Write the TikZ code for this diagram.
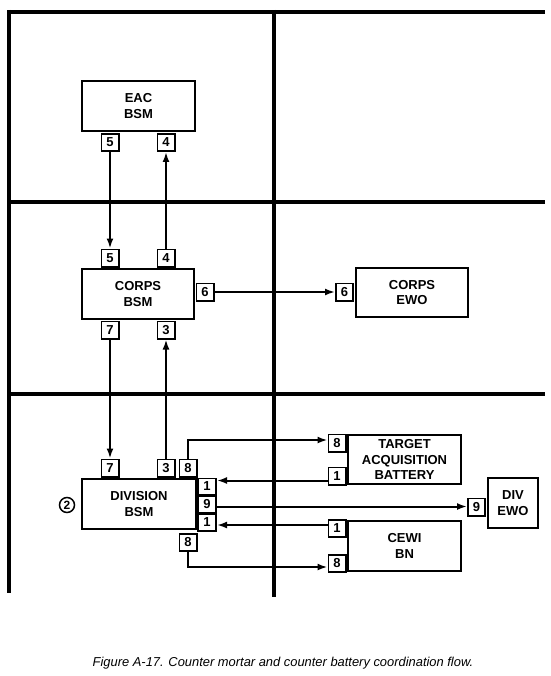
\documentclass[tikz,border=0pt]{standalone}
\usepackage{fontspec}
\setmainfont{Liberation Sans}
\usetikzlibrary{arrows.meta}
\begin{document}
\begin{tikzpicture}[x=1pt,y=-1pt,
  grid/.style={line width=4pt},
  box/.style={draw, line width=1.8pt, inner sep=0pt, align=center,
    font=\fontsize{13}{15.5}\selectfont\bfseries},
  num/.style={draw, line width=1.8pt, inner sep=0pt, minimum width=17.2pt,
    minimum height=17.2pt, font=\fontsize{13}{15}\selectfont\bfseries},
  side/.style={num, minimum width=18.2pt, minimum height=16.2pt},
  arr/.style={line width=2pt, -{Latex[length=10pt,width=7pt]}},
  link/.style={line width=2pt}]
\fill[white] (0,0) rectangle (550,676);
\useasboundingbox (0,0) rectangle (550,676);
% frame grid
\draw[grid] (9,12) -- (545,12);
\draw[grid] (9,202) -- (545,202);
\draw[grid] (9,394) -- (545,394);
\draw[grid] (9,10) -- (9,593);
\draw[grid] (274,10) -- (274,597);
% main boxes
\node[box, minimum width=113.2pt, minimum height=50.2pt] (eac) at (138.5,106) {EAC\\BSM};
\node[box, minimum width=112.2pt, minimum height=50.2pt] (corps) at (138,294) {CORPS\\BSM};
\node[box, minimum width=112.2pt, minimum height=49.2pt] (cewo) at (412,292.5) {CORPS\\EWO};
\node[box, minimum width=114.2pt, minimum height=50.2pt] (div) at (139,504) {DIVISION\\BSM};
\node[box, minimum width=113.2pt, minimum height=49.2pt] (tab) at (404.5,459.5) {TARGET\\ACQUISITION\\BATTERY};
\node[box, minimum width=113.2pt, minimum height=50.2pt] (cewi) at (404.5,546) {CEWI\\BN};
\node[box, minimum width=50.2pt, minimum height=50.2pt] (dewo) at (513,503) {DIV\\EWO};
% number boxes
\node[num] (e5) at (110,142.5) {5};
\node[num] (e4) at (166,142.5) {4};
\node[num] (c5) at (110,258) {5};
\node[num] (c4) at (166,258) {4};
\node[num] (c7) at (110,330) {7};
\node[num] (c3) at (166,330) {3};
\node[num] (c6) at (205,292) {6};
\node[num] (w6) at (344.5,292) {6};
\node[num] (d7) at (110,468) {7};
\node[num] (d3) at (166,468) {3};
\node[num] (d8) at (188,468) {8};
\node[side] (d1a) at (207,486.5) {1};
\node[side] (d9) at (207,504.5) {9};
\node[side] (d1b) at (207,522.5) {1};
\node[num] (d8b) at (188,542.5) {8};
\node[num] (t8) at (337,443) {8};
\node[num] (t1) at (337,476) {1};
\node[num] (b1) at (337,528.5) {1};
\node[num] (b8) at (337,563.5) {8};
\node[num] (v9) at (476.5,507) {9};
\node[draw, circle, line width=1.5pt, minimum size=15pt, inner sep=0pt,
  font=\fontsize{12}{13}\selectfont\bfseries] (two) at (67,505) {2};
% helper levels
\coordinate (yA) at (0,440);
\coordinate (yB) at (0,480.5);
\coordinate (yC) at (0,506.5);
\coordinate (yD) at (0,525);
\coordinate (yE) at (0,567);
% connectors
\draw[arr] (e5) -- (c5);
\draw[arr] (c4) -- (e4);
\draw[arr] (c7) -- (d7);
\draw[arr] (d3) -- (c3);
\draw[arr] (c6) -- (w6);
\draw[arr] (d8.north) -- (d8.north |- yA) -- (t8.west |- yA);
\draw[arr] (t1.west |- yB) -- (d1a.east |- yB);
\draw[arr] (d9.east |- yC) -- (v9.west |- yC);
\draw[arr] (b1.west |- yD) -- (d1b.east |- yD);
\draw[arr] (d8b.south) -- (d8b.south |- yE) -- (b8.west |- yE);
% caption
\node[font=\fontsize{12.9}{15}\selectfont\itshape] (cap) at (283,663)
  {Figure A-17. Counter mortar and counter battery coordination flow.};
\end{tikzpicture}
\end{document}
